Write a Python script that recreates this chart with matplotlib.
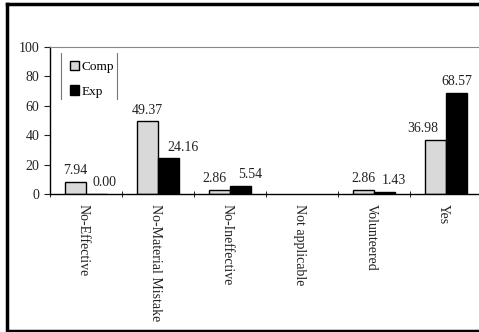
import numpy as np
import matplotlib.pyplot as plt
from matplotlib.lines import Line2D

plt.rcParams['font.family'] = ['Liberation Serif', 'DejaVu Serif']

categories = ["No-Effective", "No-Material Mistake", "No-Ineffective",
              "Not applicable", "Volunteered", "Yes"]
comp = [7.94, 49.37, 2.86, np.nan, 2.86, 36.98]
exp_ = [0.00, 24.16, 5.54, np.nan, 1.43, 68.57]

# sideways nudges (pixels) so neighbouring value labels don't collide
comp_shift = [0, 0, -5, 0, 0, -13]
exp_shift = [8, 15, 10, 0, 9, 0]

fig = plt.figure(figsize=(4.79, 3.32), dpi=100)
ax = fig.add_axes([50 / 479, 138 / 332, 432 / 479, 147 / 332])

x = np.arange(len(categories))
w = 0.29
ax.bar(x - w / 2, comp, w, color="#d9d9d9", edgecolor="black", linewidth=1, label="Comp")
ax.bar(x + w / 2, exp_, w, color="black", edgecolor="black", linewidth=1, label="Exp")

# value labels above each bar
for xs, vals, shifts in ((x - w / 2, comp, comp_shift), (x + w / 2, exp_, exp_shift)):
    for xi, v, s in zip(xs, vals, shifts):
        if np.isnan(v):
            continue
        ax.annotate(f"{v:.2f}", (xi, v), xytext=(s * 0.72, 3.5), textcoords="offset points",
                    ha="center", va="bottom", fontsize=10, color="#222222")

ax.set_xlim(-0.5, len(categories) - 0.5)
ax.set_ylim(0, 100)
ax.set_yticks(range(0, 101, 20))
ax.tick_params(axis="y", direction="out", length=4, labelsize=10, colors="#222222")

ax.set_xticks(x - 0.04)
ax.set_xticklabels(categories, rotation=270, fontsize=10, color="#222222")
ax.tick_params(axis="x", which="major", length=0, pad=7)
ax.set_xticks(np.arange(-0.5, len(categories), 1), minor=True)
ax.tick_params(axis="x", which="minor", direction="inout", length=5)

ax.spines["right"].set_visible(False)
ax.spines["top"].set_color("#888888")
ax.spines["left"].set_linewidth(1)
ax.spines["bottom"].set_linewidth(1)

ax.legend(loc="upper left", bbox_to_anchor=(0.022, 0.975), frameon=False,
          fontsize=9.5, handlelength=0.7, handleheight=0.7, handletextpad=0.2,
          labelspacing=0.9, borderpad=0.3)

# thin vertical rules either side of the legend
for xv in (61, 117):
    fig.add_artist(Line2D([xv / 479, xv / 479], [1 - 53 / 332, 1 - 99 / 332],
                          color="#777777", linewidth=0.8))

# outer frame
fig.add_artist(Line2D([6.5 / 479, 6.5 / 479, 1.0], [1 - 3.5 / 332, 1 - 330.5 / 332, 1 - 330.5 / 332],
                      color="black", linewidth=2.5))
fig.add_artist(Line2D([6.5 / 479, 1.0], [1 - 3.5 / 332, 1 - 3.5 / 332],
                      color="black", linewidth=2.5))

fig.savefig("out.png", dpi=100)
